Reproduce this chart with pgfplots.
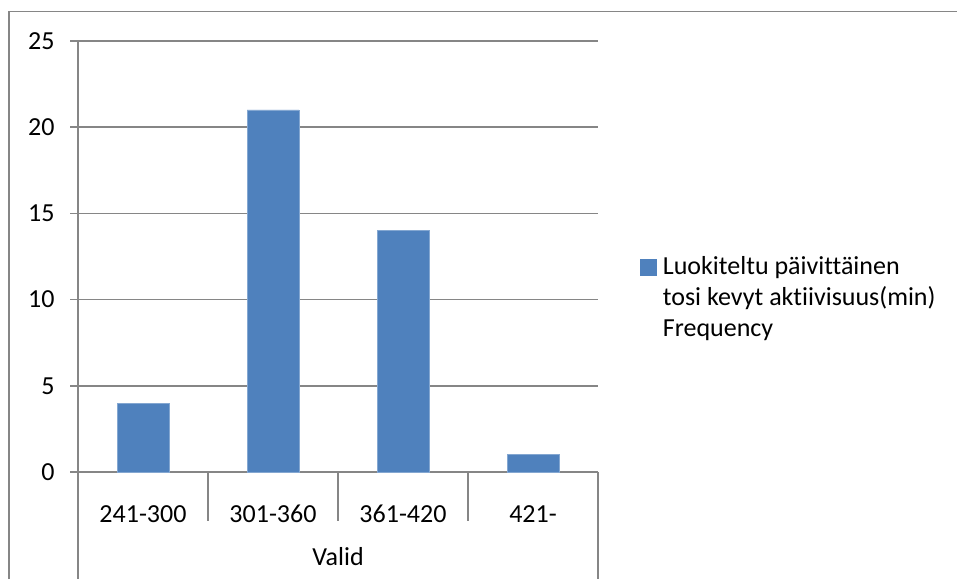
\documentclass[border=0pt]{standalone}
\usepackage{fontspec}
\setmainfont{Carlito}[Ligatures=NoCommon]
\usepackage{pgfplots}
\pgfplotsset{compat=1.18}
\definecolor{barblue}{HTML}{4F81BD}
\definecolor{gridgray}{HTML}{868686}

\begin{document}
\begin{tikzpicture}[x=1pt,y=1pt]
\useasboundingbox (0,0) rectangle (478.5,289.5);
% chart frame (top and left edges)
\draw[gridgray, line width=0.8pt] (4.5,0) -- (4.5,283.75) -- (478.5,283.75);
\begin{axis}[
  at={(39pt,53.5pt)}, anchor=south west,
  scale only axis, width=260pt, height=215.5pt,
  clip=false,
  ymin=0, ymax=25, ytick={0,5,...,25},
  xmin=-0.5, xmax=3.5,
  xtick={0,1,2,3}, xticklabels={241-300,301-360,361-420,421-},
  x tick style={draw=none},
  y tick style={gridgray, line width=0.75pt},
  tick align=outside, major tick length=4pt,
  ymajorgrids, grid style={gridgray, line width=0.75pt},
  axis x line*=bottom, axis y line*=left,
  axis line style={gridgray, line width=0.75pt, -},
  /pgf/number format/assume math mode=true,
  ticklabel style={font=\fontsize{13}{15}\selectfont},
  yticklabel style={anchor=east, inner sep=0pt, xshift=-7.5pt},
  xticklabel style={anchor=center, inner sep=0pt, yshift=-17pt},
  ybar, bar width=25.8pt,
  legend style={at={(axis description cs:1.069,0.404)}, anchor=west, draw=none, fill=none,
    font=\fontsize{13}{15.5}\selectfont, cells={anchor=west, align=left},
    /tikz/every odd column/.style={column sep=1pt}},
  legend image code/.code={\fill[barblue] (0pt,11.5pt) rectangle (8pt,19.5pt);},
]
\addplot[fill=barblue, draw=barblue!70!white, line width=0.3pt]
  coordinates {(0,4) (1,21) (2,14) (3,1)};
\addlegendentry{Luokiteltu päivittäinen\\tosi kevyt aktiivisuus(min)\\Frequency}
% category separators below the axis
\draw[gridgray, line width=0.75pt] (axis cs:0.5,0) -- ([yshift=-24.5pt]axis cs:0.5,0);
\draw[gridgray, line width=0.75pt] (axis cs:1.5,0) -- ([yshift=-24.5pt]axis cs:1.5,0);
\draw[gridgray, line width=0.75pt] (axis cs:2.5,0) -- ([yshift=-24.5pt]axis cs:2.5,0);
\draw[gridgray, line width=0.75pt] (axis cs:-0.5,0) -- ([yshift=-53.5pt]axis cs:-0.5,0);
\draw[gridgray, line width=0.75pt] (axis cs:3.5,0) -- ([yshift=-53.5pt]axis cs:3.5,0);
\node[font=\fontsize{13}{15}\selectfont] at ([yshift=-42.5pt]axis cs:1.5,0) {Valid};
\end{axis}
\end{tikzpicture}
\end{document}
